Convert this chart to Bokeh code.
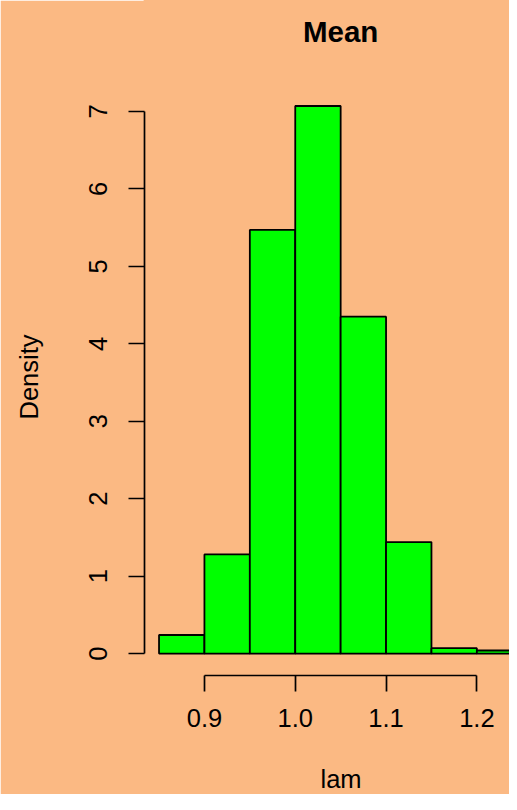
from bokeh.plotting import figure
from bokeh.models import Range1d, FixedTicker, Label, Title
from bokeh.embed import file_html
from bokeh.resources import INLINE

# ---- data ----
breaks = [0.85, 0.90, 0.95, 1.00, 1.05, 1.10, 1.15, 1.20, 1.25]
density = [0.24, 1.28, 5.47, 7.07, 4.35, 1.44, 0.07, 0.04]
x_ticks = [0.9, 1.0, 1.1, 1.2]
x_tick_labels = ["0.9", "1.0", "1.1", "1.2"]
y_ticks = [0, 1, 2, 3, 4, 5, 6, 7]
title_text = "Mean"
x_label = "lam"
y_label = "Density"

BG = "#FBB983"
FONT = "Liberation Sans"

# R-style 4% range extension
span = breaks[-1] - breaks[0]
x_lo = breaks[0] - 0.04 * span
x_hi_full = breaks[-1] + 0.04 * span
ymax = max(density)
y_lo, y_hi = -0.04 * ymax, 1.04 * ymax

W, H = 509, 794
left_b, bottom_b = 144, 119
frame_w = W - left_b
frame_total_h = H - bottom_b          # frame reaches the top of the canvas
full_w = 392.3                        # width of the whole R plotting region
plot_h = 591.4                        # height of the R plotting region
x_hi = x_lo + (x_hi_full - x_lo) * frame_w / full_w
y_top = y_lo + (y_hi - y_lo) * frame_total_h / plot_h

p = figure(
    width=W, height=H,
    min_border_left=left_b, min_border_right=0, min_border_top=0,
    min_border_bottom=bottom_b,
    x_range=Range1d(x_lo, x_hi), y_range=Range1d(y_lo, y_top),
    output_backend="svg", toolbar_location=None,
    background_fill_color=BG, border_fill_color=BG,
    outline_line_color=BG, outline_line_width=2,
)
p.grid.visible = False

p.quad(left=breaks[:-1], right=breaks[1:], bottom=0, top=density,
       fill_color="#00FF00", line_color="black", line_width=1.8)


def style_axis(ax, label_standoff):
    ax.minor_tick_line_color = None
    ax.major_tick_in = 0
    ax.major_tick_out = 16
    ax.major_tick_line_width = 1.7
    ax.axis_line_width = 1.7
    ax.major_label_standoff = label_standoff
    ax.major_label_text_font = FONT
    ax.major_label_text_font_size = "25.5px"
    ax.major_label_text_color = "black"
    # blank spacer label: only reserves room between tick labels and axis title
    ax.axis_label = " "
    ax.axis_label_text_font_size = "10px"
    ax.axis_label_text_alpha = 0


# x axis
xa = p.xaxis[0]
xa.ticker = FixedTicker(ticks=x_ticks)
xa.major_label_overrides = {t: l for t, l in zip(x_ticks, x_tick_labels)}
xa.bounds = (x_ticks[0], x_ticks[-1])
style_axis(xa, 17)
xa.axis_label_standoff = 19

# y axis
ya = p.yaxis[0]
ya.ticker = FixedTicker(ticks=y_ticks)
ya.bounds = (y_ticks[0], y_ticks[-1])
style_axis(ya, 21)
ya.major_label_orientation = "vertical"
ya.axis_label_standoff = 18

# axis titles, centred on R's plotting region (which is wider than the canvas)
p.add_layout(Title(text=y_label, align="left", offset=256, standoff=24,
                   text_font=FONT, text_font_size="25.5px", text_font_style="normal",
                   text_color="black"), "left")
p.add_layout(Title(text=x_label, align="left", offset=176, standoff=0,
                   text_font=FONT, text_font_size="25.5px", text_font_style="normal",
                   text_color="black"), "below")

# main title
x_mid = (x_lo + x_hi_full) / 2
p.add_layout(Label(x=x_mid, x_units="data", y=644, y_units="screen",
                   text=title_text, text_align="center", text_baseline="alphabetic",
                   text_font=FONT, text_font_size="29.5px", text_font_style="bold",
                   text_color="black"))

open("out.html", "w").write(file_html(p, INLINE))
